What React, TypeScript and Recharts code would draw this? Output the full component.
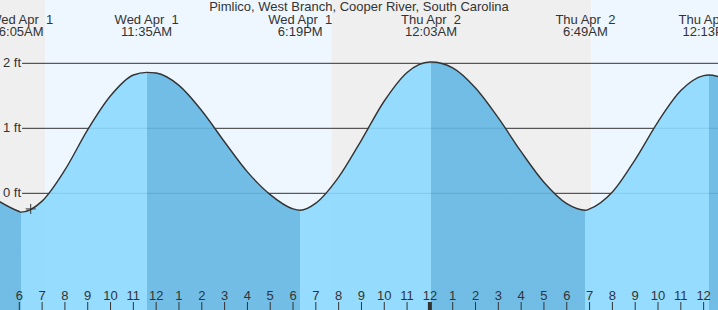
import {
  ComposedChart, Area, Line, XAxis, YAxis, ReferenceArea, ReferenceLine, ReferenceDot,
} from "recharts";

const W = 718;
const H = 310;
const FONT = "'Liberation Sans', Arial, sans-serif";
const INK = "#333";

// hours counted from Wed Apr 1 00:00 (local)
const tideHours = [5, 6, 6.083, 7, 8, 9, 10, 11, 11.583, 12, 13, 14, 15, 16, 17, 18, 18.317,
  19, 20, 21, 22, 23, 24, 24.05, 25, 26, 27, 28, 29, 30, 30.817, 31, 32, 33, 34, 35, 36, 36.217, 37];
const tideFeet = [-0.1, -0.28, -0.29, -0.12, 0.36, 0.98, 1.5, 1.82, 1.86, 1.85, 1.66, 1.27, 0.79, 0.33, -0.02, -0.24, -0.26,
  -0.15, 0.25, 0.82, 1.42, 1.86, 2.02, 2.02, 1.93, 1.62, 1.16, 0.64, 0.17, -0.16, -0.26, -0.24, 0.02, 0.52, 1.1, 1.58, 1.81, 1.82, 1.76];

// high / low tides
const extremeHours = [6.083, 11.583, 18.317, 24.05, 30.817, 36.217];
const extremeKinds = ["low", "high", "low", "high", "low", "high"];
const extremeDates = ["Wed Apr  1", "Wed Apr  1", "Wed Apr  1", "Thu Apr  2", "Thu Apr  2", "Thu Apr  2"];
const extremeTimes = ["6:05AM", "11:35AM", "6:19PM", "12:03AM", "6:49AM", "12:13PM"];

// daylight
const sunriseHours = [7.13, 31.08];
const sunsetHours = [19.68];

const hourTicks = [6, 7, 8, 9, 10, 11, 12, 13, 14, 15, 16, 17, 18, 19, 20, 21, 22, 23, 24, 25, 26, 27, 28, 29, 30, 31, 32, 33, 34, 35, 36];
const hourLabels = ["6", "7", "8", "9", "10", "11", "12", "1", "2", "3", "4", "5", "6", "7", "8", "9", "10", "11",
  "12", "1", "2", "3", "4", "5", "6", "7", "8", "9", "10", "11", "12"];

const feetTicks = [0, 1, 2];

const nowHour = 6.5;
const nowFeet = -0.24;

const xDomain: [number, number] = [5.154, 36.63];
const yDomain: [number, number] = [-1.795, 2.974];
const gridStart = 6.12;

const rows = tideHours.map((t, i) => ({ t, h: tideFeet[i] }));

// sky bands (night grey / day pale blue)
const skyBands: { from: number; to: number; day: boolean }[] = [
  { from: xDomain[0], to: sunriseHours[0], day: false },
  { from: sunriseHours[0], to: sunsetHours[0], day: true },
  { from: sunsetHours[0], to: sunriseHours[1], day: false },
  { from: sunriseHours[1], to: xDomain[1], day: true },
];

// water colour switches at each high / low: rising = light, falling = dark
const first = tideHours[0];
const span = tideHours[tideHours.length - 1] - first;
const edges = [first, ...extremeHours, tideHours[tideHours.length - 1]];
const waterStops = edges.slice(0, -1).flatMap((e, k) => {
  const rising = k > 0 && extremeKinds[k - 1] === "low";
  const color = rising ? "#8cd9ff" : "#64b7e3";
  return [
    { off: (e - first) / span, color },
    { off: (edges[k + 1] - first) / span, color },
  ];
});

const HourTick = (props: any) => {
  const { x, payload } = props;
  const i = hourTicks.indexOf(payload.value);
  const midnight = payload.value % 24 === 0;
  return (
    <g>
      <text x={x} y={H - 10} textAnchor="middle" fontSize={13} fontFamily={FONT} fill={INK}>
        {hourLabels[i]}
      </text>
      <line x1={x} x2={x} y1={H - 8} y2={H} stroke={INK} strokeWidth={midnight ? 4 : 1} />
    </g>
  );
};

const ExtremeTick = (props: any) => {
  const { x, payload } = props;
  const i = extremeHours.indexOf(payload.value);
  return (
    <g fontSize={13} fontFamily={FONT} fill={INK}>
      <text x={x} y={24} textAnchor="middle" style={{ whiteSpace: "pre" }}>{extremeDates[i]}</text>
      <text x={x} y={36} textAnchor="middle">{extremeTimes[i]}</text>
    </g>
  );
};

const FeetTick = (props: any) => {
  const { y, payload } = props;
  return (
    <text x={3} y={y} dy={4} fontSize={13} fontFamily={FONT} fill={INK}>{`${payload.value} ft`}</text>
  );
};

const Cross = (props: any) => {
  const { cx, cy } = props;
  return (
    <g stroke={INK} strokeWidth={1}>
      <line x1={cx - 5} x2={cx + 5} y1={cy} y2={cy} />
      <line x1={cx} x2={cx} y1={cy - 5} y2={cy + 5} />
    </g>
  );
};

export default function App() {
  return (
    <div style={{ position: "absolute", left: 0, top: 0, width: W, height: H }}>
      <ComposedChart width={W} height={H} data={rows} margin={{ top: 0, right: 0, bottom: 0, left: 0 }}>
        <defs>
          <linearGradient id="water" x1="0" y1="0" x2="1" y2="0">
            {waterStops.map((s, i) => (
              <stop key={i} offset={s.off} stopColor={s.color} />
            ))}
          </linearGradient>
        </defs>
        <XAxis dataKey="t" type="number" domain={xDomain} allowDataOverflow mirror
          ticks={hourTicks} interval={0} axisLine={false} tickLine={false} tick={HourTick} />
        <XAxis xAxisId="top" dataKey="t" type="number" orientation="top" domain={xDomain} allowDataOverflow mirror
          ticks={extremeHours} interval={0} axisLine={false} tickLine={false} tick={ExtremeTick} />
        <YAxis type="number" domain={yDomain} allowDataOverflow mirror ticks={feetTicks} interval={0}
          axisLine={false} tickLine={false} tick={FeetTick} />
        {skyBands.map((b, i) => (
          <ReferenceArea key={"sky" + i} x1={b.from} x2={b.to} fill={b.day ? "#eef7ff" : "#efefef"}
            fillOpacity={1} stroke="none" ifOverflow="hidden" zIndex={-60} />
        ))}
        {feetTicks.map(f => (
          <ReferenceLine key={"g" + f} segment={[{ x: gridStart, y: f }, { x: xDomain[1], y: f }]}
            stroke={INK} strokeWidth={1} zIndex={-50} />
        ))}
        <Area dataKey="h" type="monotone" baseValue="dataMin" fill="url(#water)" fillOpacity={0.9}
          stroke="none" isAnimationActive={false} />
        <Line dataKey="h" type="monotone" stroke={INK} strokeWidth={1.4} dot={false} isAnimationActive={false} />
        <ReferenceDot x={nowHour} y={nowFeet} shape={Cross} />
      </ComposedChart>
      <div style={{
        position: "absolute", left: 0, top: 0, width: W, textAlign: "center",
        fontFamily: FONT, fontSize: 13, lineHeight: "13px", color: INK, pointerEvents: "none",
      }}>
        Pimlico, West Branch, Cooper River, South Carolina
      </div>
    </div>
  );
}
